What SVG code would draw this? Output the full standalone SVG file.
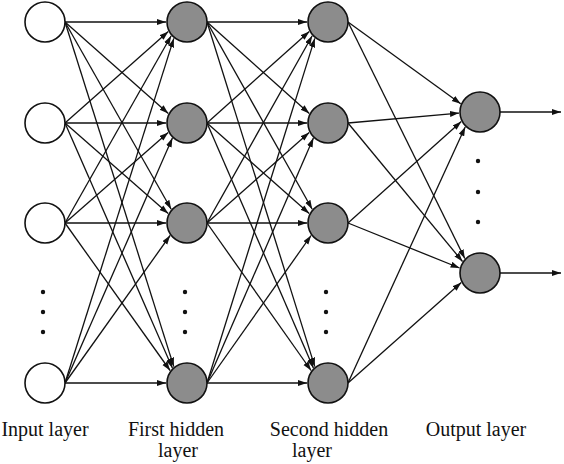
<svg xmlns="http://www.w3.org/2000/svg" width="564" height="464" viewBox="0 0 564 464">
<style>
.c line{stroke:#111;stroke-width:1.3;marker-end:url(#ah)}
.in{fill:#fff;stroke:#111;stroke-width:1.6}
.hd{fill:#8c8c8c;stroke:#111;stroke-width:1.6}
.dot{fill:#111}
text{font-family:"Liberation Serif","Times New Roman",serif;font-size:20px;fill:#111;text-anchor:middle}
</style>
<defs>
<marker id="ah" markerUnits="userSpaceOnUse" markerWidth="10" markerHeight="7" refX="9" refY="3" orient="auto">
<path d="M0,0 L9,3 L0,6 z" fill="#111"/>
</marker>
</defs>
<g id="connectors" class="c">
<line x1="65" y1="22" x2="166" y2="22"/>
<line x1="65" y1="22" x2="168.3" y2="113.5"/>
<line x1="65" y1="22" x2="171.2" y2="209.2"/>
<line x1="65" y1="22" x2="173.8" y2="366.6"/>
<line x1="65" y1="123" x2="168.3" y2="31.5"/>
<line x1="65" y1="123" x2="166" y2="123"/>
<line x1="65" y1="123" x2="168.2" y2="213.6"/>
<line x1="65" y1="123" x2="172.4" y2="367.9"/>
<line x1="65" y1="223" x2="171.2" y2="35.8"/>
<line x1="65" y1="223" x2="168.2" y2="132.4"/>
<line x1="65" y1="223" x2="166" y2="223"/>
<line x1="65" y1="223" x2="170.1" y2="370.5"/>
<line x1="65" y1="383" x2="173.8" y2="38.4"/>
<line x1="65" y1="383" x2="172.4" y2="138.1"/>
<line x1="65" y1="383" x2="170.1" y2="235.5"/>
<line x1="65" y1="383" x2="166" y2="383"/>
<line x1="207" y1="22" x2="307" y2="22"/>
<line x1="207" y1="22" x2="309.3" y2="113.5"/>
<line x1="207" y1="22" x2="312.2" y2="209.2"/>
<line x1="207" y1="22" x2="314.8" y2="366.6"/>
<line x1="207" y1="123" x2="309.3" y2="31.5"/>
<line x1="207" y1="123" x2="307" y2="123"/>
<line x1="207" y1="123" x2="309.2" y2="213.6"/>
<line x1="207" y1="123" x2="313.4" y2="367.9"/>
<line x1="207" y1="223" x2="312.2" y2="35.8"/>
<line x1="207" y1="223" x2="309.2" y2="132.4"/>
<line x1="207" y1="223" x2="307" y2="223"/>
<line x1="207" y1="223" x2="311.1" y2="370.5"/>
<line x1="207" y1="383" x2="314.8" y2="38.4"/>
<line x1="207" y1="383" x2="313.4" y2="138.1"/>
<line x1="207" y1="383" x2="311.1" y2="235.5"/>
<line x1="207" y1="383" x2="307" y2="383"/>
<line x1="348" y1="22" x2="460.7" y2="103.8"/>
<line x1="348" y1="22" x2="464.8" y2="258.5"/>
<line x1="348" y1="123" x2="459" y2="113.1"/>
<line x1="348" y1="123" x2="462.5" y2="261.5"/>
<line x1="348" y1="223" x2="461.3" y2="121.6"/>
<line x1="348" y1="223" x2="459.6" y2="268"/>
<line x1="348" y1="383" x2="465.2" y2="126.9"/>
<line x1="348" y1="383" x2="461.3" y2="282.5"/>
<line x1="500" y1="112" x2="561" y2="112"/>
<line x1="500" y1="273" x2="561" y2="273"/>
</g>
<g id="input-1"><circle class="in" cx="45" cy="22" r="20"/></g>
<g id="input-2"><circle class="in" cx="45" cy="123" r="20"/></g>
<g id="input-3"><circle class="in" cx="45" cy="223" r="20"/></g>
<g id="input-n"><circle class="in" cx="45" cy="383" r="20"/></g>
<g id="h1-1"><circle class="hd" cx="187" cy="22" r="20"/></g>
<g id="h1-2"><circle class="hd" cx="187" cy="123" r="20"/></g>
<g id="h1-3"><circle class="hd" cx="187" cy="223" r="20"/></g>
<g id="h1-n"><circle class="hd" cx="187" cy="383" r="20"/></g>
<g id="h2-1"><circle class="hd" cx="328" cy="22" r="20"/></g>
<g id="h2-2"><circle class="hd" cx="328" cy="123" r="20"/></g>
<g id="h2-3"><circle class="hd" cx="328" cy="223" r="20"/></g>
<g id="h2-n"><circle class="hd" cx="328" cy="383" r="20"/></g>
<g id="out-1"><circle class="hd" cx="480" cy="112" r="20"/></g>
<g id="out-n"><circle class="hd" cx="480" cy="273" r="20"/></g>
<g id="ellipses" class="dot">
<circle cx="43" cy="292" r="2.2"/><circle cx="43" cy="312" r="2.2"/><circle cx="43" cy="332" r="2.2"/>
<circle cx="185" cy="292" r="2.2"/><circle cx="185" cy="312" r="2.2"/><circle cx="185" cy="332" r="2.2"/>
<circle cx="326" cy="292" r="2.2"/><circle cx="326" cy="312" r="2.2"/><circle cx="326" cy="332" r="2.2"/>
<circle cx="478" cy="161" r="2.2"/><circle cx="478" cy="192" r="2.2"/><circle cx="478" cy="222" r="2.2"/>
</g>
<g id="labels">
<text x="45" y="436">Input layer</text>
<text x="176" y="436">First hidden</text>
<text x="178" y="457">layer</text>
<text x="329" y="436">Second hidden</text>
<text x="312" y="457">layer</text>
<text x="476" y="436">Output layer</text>
</g>
</svg>
